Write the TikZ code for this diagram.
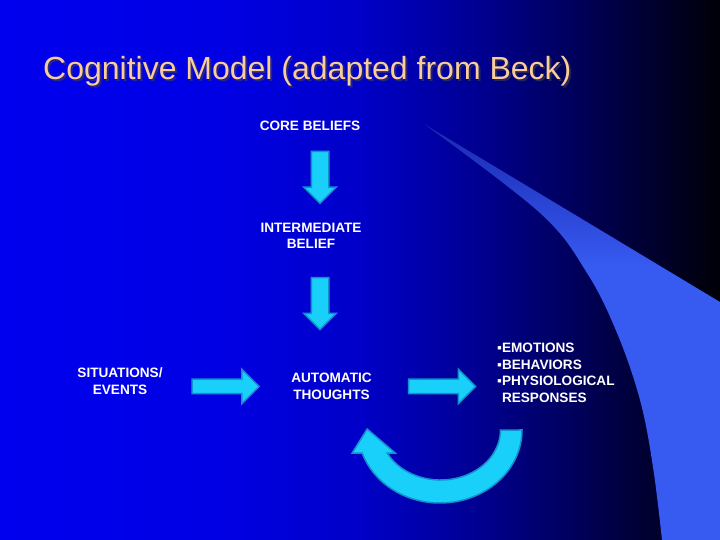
\documentclass[tikz,border=0pt]{standalone}
\usepackage{fontspec}
\setmainfont{Liberation Sans}
\usetikzlibrary{shapes.arrows}
\definecolor{bgblue}{RGB}{0,0,238}
\definecolor{swoosh}{RGB}{55,90,240}
\definecolor{swooshdark}{RGB}{25,40,175}
\definecolor{cyanfill}{RGB}{25,208,250}
\definecolor{cyanline}{RGB}{20,145,205}
\definecolor{peach}{RGB}{250,204,153}
\pgfdeclarehorizontalshading{slidebg}{100bp}{color(0bp)=(bgblue); color(25bp)=(bgblue); color(40bp)=(bgblue!96!black); color(50bp)=(bgblue!84!black); color(57.5bp)=(bgblue!63!black); color(65bp)=(bgblue!38!black); color(71bp)=(bgblue!17!black); color(75bp)=(bgblue!3!black); color(100bp)=(bgblue!3!black)}
\pgfdeclareverticalshading{swooshfade}{100bp}{color(0bp)=(swoosh); color(25bp)=(swoosh); color(58bp)=(swoosh); color(75bp)=(swooshdark); color(100bp)=(swooshdark)}

\begin{document}
\begin{tikzpicture}[x=1pt,y=1pt,
  lbl/.style={text=white, font=\bfseries\fontsize{13.6}{16.6}\selectfont, align=center, inner sep=2pt},
  blockarrow/.style={single arrow, draw=cyanline, fill=cyanfill, line width=1.5pt, inner xsep=0pt, sloped, allow upside down},
  vblock/.style={blockarrow, minimum height=52pt, inner ysep=8pt, single arrow head extend=7.5pt},
  hblock/.style={blockarrow, minimum height=67pt, inner ysep=6.5pt, single arrow head extend=10pt}]
\shade[shading=slidebg] (0,0) rectangle (720,540);
\clip (0,0) rectangle (720,540);
\shade[shading=swooshfade] (424,416) -- (720,238) -- (720,0) -- plot[smooth, tension=0.6] coordinates {(662,0) (653,73) (640,140) (617,207) (587,267) (540,327) (424,416)} -- cycle;

\node[anchor=base west, inner sep=0pt, text=black!75, opacity=0.6, font=\fontsize{32}{36}\selectfont] (titleshadow) at (45,458) {Cognitive Model (adapted from Beck)};
\node[anchor=base west, inner sep=0pt, text=peach, font=\fontsize{32}{36}\selectfont] (title) at (43,460) {Cognitive Model (adapted from Beck)};

\node[lbl] (core) at (310,414) {CORE BELIEFS};
\node[lbl] (inter) at (311,304) {INTERMEDIATE\\BELIEF};
\node[lbl] (situ) at (120,159) {SITUATIONS/\\EVENTS};
\node[lbl] (auto) at (331.5,153.5) {AUTOMATIC\\THOUGHTS};
\node[lbl, align=left, anchor=west, inner sep=0pt] (resp) at (497,167) {▪EMOTIONS\\▪BEHAVIORS\\▪PHYSIOLOGICAL\\\phantom{▪}RESPONSES};

\coordinate (col) at (320,0);
\path (core.south -| col) -- node[vblock, pos=0.455]{} (inter.north -| col);
\path (inter.south -| col) -- node[vblock, pos=0.4]{} (auto.north -| col);
\path (situ.east |- auto) -- node[hblock, pos=0.46]{} (auto.west);
\path (auto.east) -- node[hblock, pos=0.525]{} (resp.west |- auto);

\coordinate (loop) at (440,110);
\draw[cyanline, fill=cyanfill, line width=1.5pt] ([xshift=82pt]loop) arc[start angle=0, end angle=-161.6, x radius=82, y radius=73] -- ++(-10,0) -- ++(15,24) -- ++(28,-24) -- ++(-8,0) arc[start angle=-152.6, end angle=0, x radius=60, y radius=50] -- cycle;
\end{tikzpicture}
\end{document}
